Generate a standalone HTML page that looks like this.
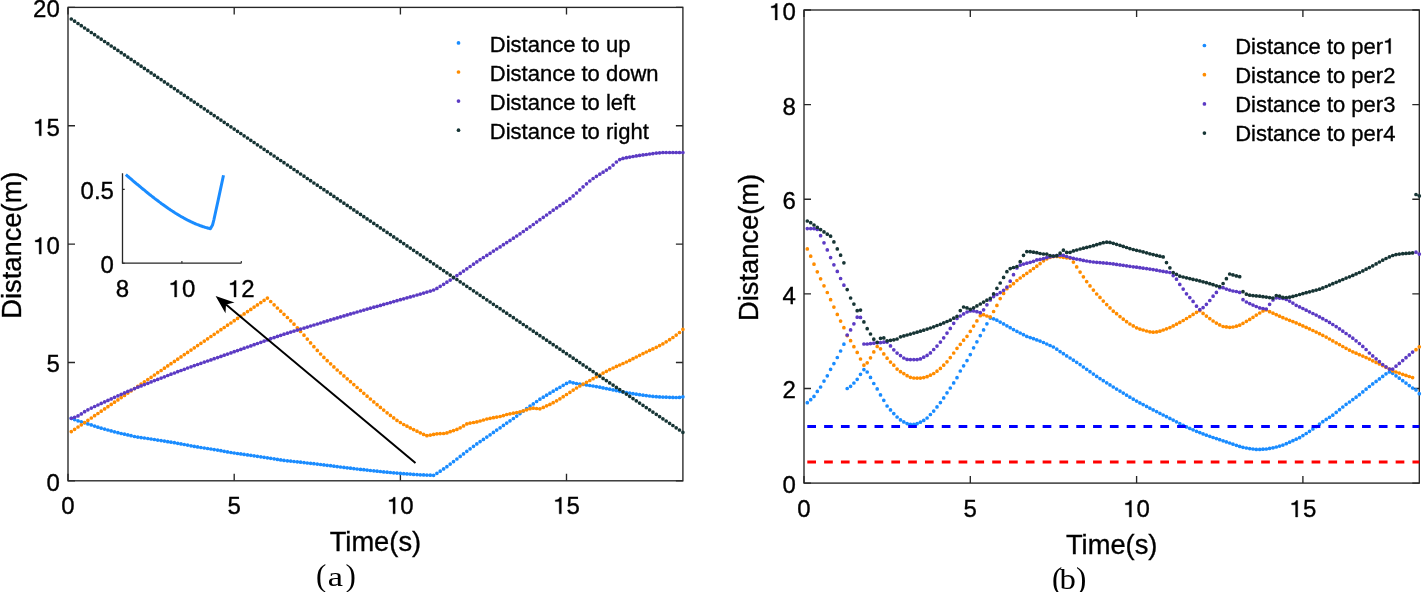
<!DOCTYPE html><html><head><meta charset="utf-8"><style>html,body{margin:0;padding:0;background:#fff;}svg{display:block;will-change:transform;} text{stroke:#000;stroke-width:0.35px;} .o{stroke:#000;stroke-width:0.35px;}</style></head><body>
<svg width="1422" height="592" viewBox="0 0 1422 592" font-family='"Liberation Sans", sans-serif'>
<rect width="1422" height="592" fill="#fff"/>
<rect x="68.0" y="7.4" width="614.9" height="473.4" fill="none" stroke="#262626" stroke-width="1.35"/>
<path d="M68.0 480.8V473.8M68.0 7.4V14.4M234.2 480.8V473.8M234.2 7.4V14.4M400.4 480.8V473.8M400.4 7.4V14.4M566.5 480.8V473.8M566.5 7.4V14.4M68.0 480.8H75.0M682.9 480.8H675.9M68.0 362.5H75.0M682.9 362.5H675.9M68.0 244.1H75.0M682.9 244.1H675.9M68.0 125.7H75.0M682.9 125.7H675.9M68.0 7.4H75.0M682.9 7.4H675.9" stroke="#262626" stroke-width="1.35" fill="none"/>
<path d="M71.3 418.3h0M74.6 419.6h0M78.0 420.8h0M81.3 421.8h0M84.6 422.8h0M87.9 423.9h0M91.3 424.9h0M94.6 426.1h0M97.9 427.2h0M101.2 428.2h0M104.6 429.1h0M107.9 430.0h0M111.2 430.9h0M114.5 431.8h0M117.9 432.7h0M121.2 433.5h0M124.5 434.2h0M127.8 434.9h0M131.1 435.7h0M134.5 436.5h0M137.8 437.1h0M141.1 437.6h0M144.4 438.0h0M147.8 438.5h0M151.1 439.0h0M154.4 439.5h0M157.7 440.1h0M161.1 440.6h0M164.4 441.1h0M167.7 441.7h0M171.0 442.2h0M174.4 442.7h0M177.7 443.3h0M181.0 443.9h0M184.3 444.5h0M187.6 445.1h0M191.0 445.8h0M194.3 446.4h0M197.6 446.9h0M200.9 447.5h0M204.3 448.0h0M207.6 448.5h0M210.9 449.0h0M214.2 449.6h0M217.6 450.1h0M220.9 450.7h0M224.2 451.3h0M227.5 451.9h0M230.9 452.5h0M234.2 453.0h0M237.5 453.5h0M240.8 453.9h0M244.1 454.4h0M247.5 454.9h0M250.8 455.3h0M254.1 455.8h0M257.4 456.3h0M260.8 456.8h0M264.1 457.3h0M267.4 457.8h0M270.7 458.3h0M274.1 458.8h0M277.4 459.4h0M280.7 459.9h0M284.0 460.4h0M287.4 460.8h0M290.7 461.1h0M294.0 461.5h0M297.3 461.8h0M300.6 462.2h0M304.0 462.6h0M307.3 463.0h0M310.6 463.3h0M313.9 463.7h0M317.3 464.1h0M320.6 464.5h0M323.9 464.9h0M327.2 465.3h0M330.6 465.7h0M333.9 466.2h0M337.2 466.6h0M340.5 467.0h0M343.9 467.4h0M347.2 467.8h0M350.5 468.2h0M353.8 468.6h0M357.1 469.0h0M360.5 469.4h0M363.8 469.7h0M367.1 470.1h0M370.4 470.5h0M373.8 470.8h0M377.1 471.2h0M380.4 471.5h0M383.7 471.9h0M387.1 472.2h0M390.4 472.5h0M393.7 472.8h0M397.0 473.1h0M400.4 473.4h0M403.7 473.7h0M407.0 473.9h0M410.3 474.1h0M413.6 474.4h0M417.0 474.6h0M420.3 474.8h0M423.6 474.9h0M426.9 475.1h0M430.3 475.2h0M433.6 475.3h0M436.9 473.3h0M440.2 471.2h0M443.6 468.9h0M446.9 466.7h0M450.2 464.1h0M453.5 461.6h0M456.9 459.0h0M460.2 456.4h0M463.5 453.9h0M466.8 451.3h0M470.1 448.8h0M473.5 446.3h0M476.8 443.9h0M480.1 441.6h0M483.4 439.4h0M486.8 437.1h0M490.1 434.8h0M493.4 432.4h0M496.7 430.1h0M500.1 427.8h0M503.4 425.4h0M506.7 423.1h0M510.0 420.8h0M513.4 418.5h0M516.7 416.1h0M520.0 413.6h0M523.3 411.1h0M526.6 408.6h0M530.0 406.2h0M533.3 403.9h0M536.6 401.5h0M539.9 399.2h0M543.3 397.2h0M546.6 395.2h0M549.9 393.2h0M553.2 391.2h0M556.6 389.2h0M559.9 387.3h0M563.2 385.3h0M566.5 383.4h0M569.9 381.9h0M573.2 382.8h0M576.5 383.5h0M579.8 384.0h0M583.1 384.5h0M586.5 385.0h0M589.8 385.5h0M593.1 386.0h0M596.4 386.6h0M599.8 387.2h0M603.1 387.9h0M606.4 388.6h0M609.7 389.2h0M613.1 389.9h0M616.4 390.6h0M619.7 391.3h0M623.0 391.9h0M626.4 392.6h0M629.7 393.1h0M633.0 393.7h0M636.3 394.2h0M639.6 394.7h0M643.0 395.2h0M646.3 395.6h0M649.6 396.0h0M652.9 396.4h0M656.3 396.7h0M659.6 396.9h0M662.9 397.1h0M666.2 397.2h0M669.6 397.3h0M672.9 397.4h0M676.2 397.5h0M679.5 397.4h0M682.9 396.8h0" stroke="#1a8cff" stroke-width="3.70" stroke-linecap="round" fill="none"/>
<path d="M71.3 431.6h0M74.6 429.3h0M78.0 427.0h0M81.3 424.8h0M84.6 422.5h0M87.9 420.3h0M91.3 418.0h0M94.6 415.7h0M97.9 413.5h0M101.2 411.2h0M104.6 408.9h0M107.9 406.7h0M111.2 404.4h0M114.5 402.2h0M117.9 399.9h0M121.2 397.6h0M124.5 395.4h0M127.8 393.1h0M131.1 390.8h0M134.5 388.6h0M137.8 386.3h0M141.1 384.0h0M144.4 381.8h0M147.8 379.5h0M151.1 377.3h0M154.4 375.0h0M157.7 372.7h0M161.1 370.5h0M164.4 368.2h0M167.7 365.9h0M171.0 363.7h0M174.4 361.4h0M177.7 359.2h0M181.0 356.9h0M184.3 354.6h0M187.6 352.4h0M191.0 350.1h0M194.3 347.8h0M197.6 345.6h0M200.9 343.3h0M204.3 341.1h0M207.6 338.8h0M210.9 336.5h0M214.2 334.3h0M217.6 332.0h0M220.9 329.7h0M224.2 327.5h0M227.5 325.2h0M230.9 323.0h0M234.2 320.7h0M237.5 318.4h0M240.8 316.2h0M244.1 313.9h0M247.5 311.6h0M250.8 309.4h0M254.1 307.1h0M257.4 304.9h0M260.8 302.6h0M264.1 300.3h0M267.4 298.1h0M270.7 301.5h0M274.1 304.8h0M277.4 308.0h0M280.7 311.2h0M284.0 314.3h0M287.4 317.5h0M290.7 320.8h0M294.0 324.2h0M297.3 327.8h0M300.6 331.5h0M304.0 335.2h0M307.3 339.1h0M310.6 342.9h0M313.9 346.7h0M317.3 350.4h0M320.6 354.0h0M323.9 357.4h0M327.2 360.7h0M330.6 363.8h0M333.9 366.9h0M337.2 370.0h0M340.5 372.9h0M343.9 375.9h0M347.2 378.8h0M350.5 381.7h0M353.8 384.6h0M357.1 387.5h0M360.5 390.4h0M363.8 393.3h0M367.1 396.2h0M370.4 399.0h0M373.8 401.9h0M377.1 404.7h0M380.4 407.4h0M383.7 410.1h0M387.1 412.8h0M390.4 415.4h0M393.7 417.9h0M397.0 420.4h0M400.4 422.5h0M403.7 424.5h0M407.0 426.2h0M410.3 427.9h0M413.6 429.6h0M417.0 431.2h0M420.3 432.8h0M423.6 434.4h0M426.9 435.7h0M430.3 435.1h0M433.6 434.4h0M436.9 433.8h0M440.2 433.6h0M443.6 433.5h0M446.9 432.9h0M450.2 431.7h0M453.5 430.6h0M456.9 429.4h0M460.2 427.8h0M463.5 425.9h0M466.8 423.9h0M470.1 423.1h0M473.5 422.5h0M476.8 421.9h0M480.1 421.0h0M483.4 420.0h0M486.8 419.0h0M490.1 418.3h0M493.4 417.7h0M496.7 417.1h0M500.1 416.5h0M503.4 415.6h0M506.7 414.5h0M510.0 413.8h0M513.4 413.2h0M516.7 412.5h0M520.0 411.8h0M523.3 410.8h0M526.6 409.8h0M530.0 408.7h0M533.3 408.2h0M536.6 408.5h0M539.9 408.8h0M543.3 407.4h0M546.6 405.8h0M549.9 404.4h0M553.2 402.7h0M556.6 400.8h0M559.9 398.8h0M563.2 396.7h0M566.5 394.5h0M569.9 392.3h0M573.2 390.1h0M576.5 388.0h0M579.8 386.0h0M583.1 384.1h0M586.5 382.3h0M589.8 380.5h0M593.1 378.7h0M596.4 376.8h0M599.8 375.0h0M603.1 373.1h0M606.4 371.3h0M609.7 369.6h0M613.1 368.0h0M616.4 366.4h0M619.7 365.0h0M623.0 363.5h0M626.4 362.0h0M629.7 360.4h0M633.0 358.7h0M636.3 357.0h0M639.6 355.3h0M643.0 353.6h0M646.3 352.0h0M649.6 350.4h0M652.9 348.9h0M656.3 347.3h0M659.6 345.6h0M662.9 343.8h0M666.2 341.8h0M669.6 339.7h0M672.9 337.5h0M676.2 335.1h0M679.5 332.5h0M682.9 329.3h0" stroke="#ff8c00" stroke-width="3.70" stroke-linecap="round" fill="none"/>
<path d="M71.3 418.3h0M74.6 417.3h0M78.0 415.9h0M81.3 413.9h0M84.6 411.7h0M87.9 409.8h0M91.3 408.1h0M94.6 406.5h0M97.9 405.0h0M101.2 403.4h0M104.6 401.9h0M107.9 400.4h0M111.2 398.9h0M114.5 397.3h0M117.9 395.8h0M121.2 394.3h0M124.5 392.9h0M127.8 391.4h0M131.1 390.0h0M134.5 388.6h0M137.8 387.2h0M141.1 385.9h0M144.4 384.6h0M147.8 383.3h0M151.1 381.9h0M154.4 380.6h0M157.7 379.4h0M161.1 378.1h0M164.4 376.8h0M167.7 375.5h0M171.0 374.2h0M174.4 373.0h0M177.7 371.7h0M181.0 370.5h0M184.3 369.3h0M187.6 368.0h0M191.0 366.8h0M194.3 365.6h0M197.6 364.5h0M200.9 363.3h0M204.3 362.1h0M207.6 361.0h0M210.9 359.9h0M214.2 358.7h0M217.6 357.6h0M220.9 356.4h0M224.2 355.2h0M227.5 354.1h0M230.9 352.9h0M234.2 351.7h0M237.5 350.6h0M240.8 349.4h0M244.1 348.2h0M247.5 347.0h0M250.8 345.9h0M254.1 344.7h0M257.4 343.5h0M260.8 342.3h0M264.1 341.1h0M267.4 339.9h0M270.7 338.7h0M274.1 337.6h0M277.4 336.4h0M280.7 335.3h0M284.0 334.2h0M287.4 333.2h0M290.7 332.1h0M294.0 331.1h0M297.3 330.1h0M300.6 329.1h0M304.0 328.1h0M307.3 327.1h0M310.6 326.0h0M313.9 325.0h0M317.3 324.0h0M320.6 323.0h0M323.9 321.9h0M327.2 320.9h0M330.6 319.9h0M333.9 318.9h0M337.2 317.9h0M340.5 316.9h0M343.9 315.9h0M347.2 314.9h0M350.5 313.9h0M353.8 313.0h0M357.1 312.0h0M360.5 311.0h0M363.8 310.1h0M367.1 309.1h0M370.4 308.2h0M373.8 307.2h0M377.1 306.3h0M380.4 305.4h0M383.7 304.4h0M387.1 303.5h0M390.4 302.6h0M393.7 301.6h0M397.0 300.7h0M400.4 299.7h0M403.7 298.8h0M407.0 297.8h0M410.3 296.9h0M413.6 296.0h0M417.0 295.0h0M420.3 294.1h0M423.6 293.1h0M426.9 292.1h0M430.3 291.1h0M433.6 290.0h0M436.9 288.4h0M440.2 286.3h0M443.6 284.3h0M446.9 282.2h0M450.2 280.1h0M453.5 277.9h0M456.9 275.6h0M460.2 273.4h0M463.5 271.1h0M466.8 268.8h0M470.1 266.5h0M473.5 264.2h0M476.8 261.9h0M480.1 259.7h0M483.4 257.5h0M486.8 255.4h0M490.1 253.3h0M493.4 251.1h0M496.7 249.0h0M500.1 246.9h0M503.4 244.7h0M506.7 242.6h0M510.0 240.4h0M513.4 238.2h0M516.7 236.0h0M520.0 233.8h0M523.3 231.5h0M526.6 229.2h0M530.0 226.8h0M533.3 224.5h0M536.6 222.1h0M539.9 219.7h0M543.3 217.3h0M546.6 215.0h0M549.9 212.6h0M553.2 210.2h0M556.6 207.9h0M559.9 205.7h0M563.2 203.4h0M566.5 201.1h0M569.9 198.7h0M573.2 195.9h0M576.5 193.0h0M579.8 189.9h0M583.1 186.8h0M586.5 183.8h0M589.8 181.0h0M593.1 178.5h0M596.4 176.3h0M599.8 174.2h0M603.1 172.2h0M606.4 170.1h0M609.7 167.9h0M613.1 165.1h0M616.4 162.0h0M619.7 159.6h0M623.0 158.4h0M626.4 157.7h0M629.7 157.1h0M633.0 156.5h0M636.3 155.9h0M639.6 155.4h0M643.0 154.9h0M646.3 154.5h0M649.6 154.0h0M652.9 153.6h0M656.3 153.1h0M659.6 152.8h0M662.9 152.5h0M666.2 152.5h0M669.6 152.5h0M672.9 152.5h0M676.2 152.5h0M679.5 152.5h0M682.9 152.5h0" stroke="#5c3bc4" stroke-width="3.70" stroke-linecap="round" fill="none"/>
<path d="M71.3 19.0h0M74.6 21.2h0M78.0 23.5h0M81.3 25.7h0M84.6 28.0h0M87.9 30.2h0M91.3 32.5h0M94.6 34.7h0M97.9 37.0h0M101.2 39.2h0M104.6 41.5h0M107.9 43.7h0M111.2 46.0h0M114.5 48.2h0M117.9 50.4h0M121.2 52.7h0M124.5 54.9h0M127.8 57.2h0M131.1 59.4h0M134.5 61.7h0M137.8 63.9h0M141.1 66.2h0M144.4 68.4h0M147.8 70.7h0M151.1 72.9h0M154.4 75.2h0M157.7 77.4h0M161.1 79.6h0M164.4 81.9h0M167.7 84.1h0M171.0 86.4h0M174.4 88.6h0M177.7 90.9h0M181.0 93.1h0M184.3 95.4h0M187.6 97.6h0M191.0 99.9h0M194.3 102.1h0M197.6 104.3h0M200.9 106.6h0M204.3 108.8h0M207.6 111.1h0M210.9 113.3h0M214.2 115.6h0M217.6 117.8h0M220.9 120.1h0M224.2 122.3h0M227.5 124.6h0M230.9 126.8h0M234.2 129.1h0M237.5 131.3h0M240.8 133.5h0M244.1 135.8h0M247.5 138.0h0M250.8 140.3h0M254.1 142.5h0M257.4 144.8h0M260.8 147.0h0M264.1 149.3h0M267.4 151.5h0M270.7 153.8h0M274.1 156.0h0M277.4 158.3h0M280.7 160.5h0M284.0 162.7h0M287.4 165.0h0M290.7 167.2h0M294.0 169.5h0M297.3 171.7h0M300.6 174.0h0M304.0 176.2h0M307.3 178.5h0M310.6 180.7h0M313.9 183.0h0M317.3 185.2h0M320.6 187.5h0M323.9 189.7h0M327.2 191.9h0M330.6 194.2h0M333.9 196.4h0M337.2 198.7h0M340.5 200.9h0M343.9 203.2h0M347.2 205.4h0M350.5 207.7h0M353.8 209.9h0M357.1 212.2h0M360.5 214.4h0M363.8 216.7h0M367.1 218.9h0M370.4 221.1h0M373.8 223.4h0M377.1 225.6h0M380.4 227.9h0M383.7 230.1h0M387.1 232.4h0M390.4 234.6h0M393.7 236.9h0M397.0 239.1h0M400.4 241.4h0M403.7 243.6h0M407.0 245.9h0M410.3 248.1h0M413.6 250.3h0M417.0 252.6h0M420.3 254.8h0M423.6 257.1h0M426.9 259.3h0M430.3 261.6h0M433.6 263.8h0M436.9 266.1h0M440.2 268.3h0M443.6 270.6h0M446.9 272.8h0M450.2 275.1h0M453.5 277.3h0M456.9 279.5h0M460.2 281.8h0M463.5 284.0h0M466.8 286.3h0M470.1 288.5h0M473.5 290.8h0M476.8 293.0h0M480.1 295.3h0M483.4 297.5h0M486.8 299.8h0M490.1 302.0h0M493.4 304.3h0M496.7 306.5h0M500.1 308.7h0M503.4 311.0h0M506.7 313.2h0M510.0 315.5h0M513.4 317.7h0M516.7 320.0h0M520.0 322.2h0M523.3 324.5h0M526.6 326.7h0M530.0 329.0h0M533.3 331.2h0M536.6 333.4h0M539.9 335.7h0M543.3 337.9h0M546.6 340.2h0M549.9 342.4h0M553.2 344.7h0M556.6 346.9h0M559.9 349.2h0M563.2 351.4h0M566.5 353.7h0M569.9 355.9h0M573.2 358.2h0M576.5 360.4h0M579.8 362.6h0M583.1 364.9h0M586.5 367.1h0M589.8 369.4h0M593.1 371.6h0M596.4 373.9h0M599.8 376.1h0M603.1 378.4h0M606.4 380.6h0M609.7 382.9h0M613.1 385.1h0M616.4 387.4h0M619.7 389.6h0M623.0 391.8h0M626.4 394.1h0M629.7 396.3h0M633.0 398.6h0M636.3 400.8h0M639.6 403.1h0M643.0 405.3h0M646.3 407.6h0M649.6 409.8h0M652.9 412.1h0M656.3 414.3h0M659.6 416.6h0M662.9 418.8h0M666.2 421.0h0M669.6 423.3h0M672.9 425.5h0M676.2 427.8h0M679.5 430.0h0M682.9 432.3h0" stroke="#173535" stroke-width="3.70" stroke-linecap="round" fill="none"/>
<g fill="#000"><text x="61.33" y="513.80" font-size="24.0">0</text>
<text x="227.50" y="513.80" font-size="24.0">5</text>
<path transform="translate(387.00 513.80) scale(0.01172 -0.01172)" d="M515 0L696 0L696 1409L560 1409C540 1290 430 1195 180 1182L180 1040L515 1040Z" fill="#000" stroke="#000" stroke-width="29.9"/><text x="400.35" y="513.80" font-size="24.0">0</text>
<path transform="translate(553.18 513.80) scale(0.01172 -0.01172)" d="M515 0L696 0L696 1409L560 1409C540 1290 430 1195 180 1182L180 1040L515 1040Z" fill="#000" stroke="#000" stroke-width="29.9"/><text x="566.53" y="513.80" font-size="24.0">5</text>
<text x="46.45" y="490.80" font-size="24.0">0</text>
<text x="46.45" y="372.45" font-size="24.0">5</text>
<path transform="translate(33.10 254.10) scale(0.01172 -0.01172)" d="M515 0L696 0L696 1409L560 1409C540 1290 430 1195 180 1182L180 1040L515 1040Z" fill="#000" stroke="#000" stroke-width="29.9"/><text x="46.45" y="254.10" font-size="24.0">0</text>
<path transform="translate(33.10 135.75) scale(0.01172 -0.01172)" d="M515 0L696 0L696 1409L560 1409C540 1290 430 1195 180 1182L180 1040L515 1040Z" fill="#000" stroke="#000" stroke-width="29.9"/><text x="46.45" y="135.75" font-size="24.0">5</text>
<text x="33.10" y="17.40" font-size="24.0">20</text></g>
<text x="375.4" y="551.4" font-size="27.3" text-anchor="middle">Time(s)</text>
<text transform="translate(21.3 245.1) rotate(-90)" font-size="27.3" text-anchor="middle">Distance(m)</text>
<circle cx="458.5" cy="42.9" r="1.85" fill="#1a8cff"/>
<text x="489.8" y="52.1" font-size="22">Distance to up</text>
<circle cx="458.5" cy="72.0" r="1.85" fill="#ff8c00"/>
<text x="489.8" y="81.2" font-size="22">Distance to down</text>
<circle cx="458.5" cy="101.1" r="1.85" fill="#5c3bc4"/>
<text x="489.8" y="110.3" font-size="22">Distance to left</text>
<circle cx="458.5" cy="130.2" r="1.85" fill="#173535"/>
<text x="489.8" y="139.4" font-size="22">Distance to right</text>
<polyline points="125.8,174.6 126.5,175.2 127.2,175.8 127.9,176.4 128.6,177.0 129.3,177.6 130.0,178.2 130.7,178.8 131.5,179.4 132.2,180.1 132.9,180.7 133.6,181.3 134.3,181.9 135.0,182.5 135.7,183.1 136.4,183.7 137.1,184.2 137.9,184.8 138.6,185.4 139.3,186.0 140.0,186.6 140.7,187.2 141.4,187.8 142.1,188.4 142.8,189.0 143.5,189.6 144.3,190.1 145.0,190.7 145.7,191.3 146.4,191.9 147.1,192.5 147.8,193.0 148.5,193.6 149.2,194.2 149.9,194.7 150.7,195.3 151.4,195.9 152.1,196.4 152.8,197.0 153.5,197.5 154.2,198.1 154.9,198.6 155.6,199.2 156.4,199.7 157.1,200.3 157.8,200.8 158.5,201.3 159.2,201.9 159.9,202.4 160.6,202.9 161.3,203.5 162.0,204.0 162.8,204.5 163.5,205.0 164.2,205.5 164.9,206.0 165.6,206.5 166.3,207.0 167.0,207.5 167.7,208.0 168.4,208.5 169.2,209.0 169.9,209.5 170.6,210.0 171.3,210.4 172.0,210.9 172.7,211.4 173.4,211.8 174.1,212.3 174.8,212.7 175.6,213.2 176.3,213.6 177.0,214.1 177.7,214.5 178.4,214.9 179.1,215.4 179.8,215.8 180.5,216.2 181.2,216.6 182.0,217.0 182.7,217.4 183.4,217.8 184.1,218.2 184.8,218.6 185.5,219.0 186.2,219.4 186.9,219.7 187.6,220.1 188.4,220.5 189.1,220.8 189.8,221.2 190.5,221.5 191.2,221.9 191.9,222.2 192.6,222.5 193.3,222.8 194.1,223.2 194.8,223.5 195.5,223.8 196.2,224.1 196.9,224.4 197.6,224.6 198.3,224.9 199.0,225.2 199.7,225.5 200.5,225.7 201.2,226.0 201.9,226.2 202.6,226.5 203.3,226.7 204.0,226.9 204.7,227.2 205.4,227.4 206.1,227.6 206.9,227.8 207.6,228.0 208.3,228.2 209.0,228.3 209.7,228.5 210.4,228.7 212.5,225.1 214.0,219.3 218.4,199.1 223.5,175.2" fill="none" stroke="#1a8cff" stroke-width="3" stroke-linejoin="round"/>
<path d="M122.5 173.2V263.2H241.3" fill="none" stroke="#262626" stroke-width="1.3"/>
<path d="M122.5 263.2V261.0M181.9 263.2V261.0M241.3 263.2V261.0M122.5 263.2H124.7M122.5 189.4H124.7" stroke="#262626" stroke-width="1.1" fill="none"/>
<g font-size="24">
<text x="115.83" y="297.00" font-size="24.0">8</text>
<path transform="translate(168.55 297.00) scale(0.01172 -0.01172)" d="M515 0L696 0L696 1409L560 1409C540 1290 430 1195 180 1182L180 1040L515 1040Z" fill="#000" stroke="#000" stroke-width="29.9"/><text x="181.90" y="297.00" font-size="24.0">0</text>
<path transform="translate(227.95 297.00) scale(0.01172 -0.01172)" d="M515 0L696 0L696 1409L560 1409C540 1290 430 1195 180 1182L180 1040L515 1040Z" fill="#000" stroke="#000" stroke-width="29.9"/><text x="241.30" y="297.00" font-size="24.0">2</text>
<text x="80.54" y="199.37" font-size="24.0">0.5</text>
<text x="100.55" y="273.20" font-size="24.0">0</text>
</g>
<line x1="415.5" y1="463.1" x2="226.0" y2="304.6" stroke="#000" stroke-width="2"/>
<path d="M215.6 295.9L234.5 302.6L226.0 304.6L225.5 313.3Z" fill="#000"/>
<rect x="804.0" y="10.0" width="615.3" height="473.1" fill="none" stroke="#262626" stroke-width="1.35"/>
<path d="M804.0 483.1V476.1M804.0 10.0V17.0M970.3 483.1V476.1M970.3 10.0V17.0M1136.6 483.1V476.1M1136.6 10.0V17.0M1302.9 483.1V476.1M1302.9 10.0V17.0M804.0 483.1H811.0M1419.3 483.1H1412.3M804.0 388.5H811.0M1419.3 388.5H1412.3M804.0 293.9H811.0M1419.3 293.9H1412.3M804.0 199.2H811.0M1419.3 199.2H1412.3M804.0 104.6H811.0M1419.3 104.6H1412.3M804.0 10.0H811.0M1419.3 10.0H1412.3" stroke="#262626" stroke-width="1.35" fill="none"/>
<path d="M807.3 402.7h0M810.7 399.7h0M814.0 396.4h0M817.3 391.4h0M820.6 387.0h0M824.0 381.1h0M827.3 375.8h0M830.6 369.3h0M833.9 363.6h0M837.3 357.5h0M840.6 351.0h0M843.9 344.2h0" stroke="#1a8cff" stroke-width="3.70" stroke-linecap="round" fill="none"/>
<path d="M847.2 388.5h0M850.6 386.3h0M853.9 383.0h0M857.2 379.3h0M860.5 374.3h0M863.9 369.6h0M867.2 372.0h0M870.5 377.4h0M873.8 383.5h0M877.2 388.9h0M880.5 394.9h0M883.8 400.3h0M887.1 406.0h0M890.5 409.9h0M893.8 413.6h0M897.1 417.0h0M900.5 419.9h0M903.8 421.9h0M907.1 423.6h0M910.4 424.3h0M913.8 424.4h0M917.1 423.7h0M920.4 422.2h0M923.7 420.4h0M927.1 418.0h0M930.4 414.5h0M933.7 411.1h0M937.0 406.9h0M940.4 402.6h0M943.7 397.9h0M947.0 392.8h0M950.3 388.0h0M953.7 382.9h0M957.0 377.7h0M960.3 371.0h0M963.6 365.8h0M967.0 360.6h0M970.3 354.6h0M973.6 347.8h0M976.9 341.8h0M980.3 335.6h0M983.6 329.9h0M986.9 323.8h0M990.3 318.1h0M993.6 318.8h0M996.9 320.2h0M1000.2 322.1h0M1003.6 323.9h0M1006.9 325.8h0M1010.2 327.7h0M1013.5 329.6h0M1016.9 331.3h0M1020.2 333.0h0M1023.5 334.7h0M1026.8 336.4h0M1030.2 337.6h0M1033.5 338.7h0M1036.8 339.9h0M1040.1 341.1h0M1043.5 342.5h0M1046.8 344.0h0M1050.1 345.5h0M1053.4 347.0h0M1056.8 349.2h0M1060.1 351.6h0M1063.4 353.7h0M1066.7 355.9h0M1070.1 358.0h0M1073.4 360.2h0M1076.7 362.3h0M1080.1 364.6h0M1083.4 367.0h0M1086.7 369.3h0M1090.0 371.7h0M1093.4 374.1h0M1096.7 376.4h0M1100.0 378.6h0M1103.3 380.7h0M1106.7 382.8h0M1110.0 384.9h0M1113.3 387.0h0M1116.6 389.1h0M1120.0 391.1h0M1123.3 393.1h0M1126.6 395.2h0M1129.9 397.2h0M1133.3 399.2h0M1136.6 401.1h0M1139.9 402.9h0M1143.2 404.6h0M1146.6 406.4h0M1149.9 408.2h0M1153.2 409.9h0M1156.6 411.6h0M1159.9 413.3h0M1163.2 415.0h0M1166.5 416.7h0M1169.9 418.4h0M1173.2 420.1h0M1176.5 421.8h0M1179.8 423.5h0M1183.2 425.3h0M1186.5 426.9h0M1189.8 428.4h0M1193.1 429.8h0M1196.5 431.3h0M1199.8 432.6h0M1203.1 433.9h0M1206.4 435.2h0M1209.8 436.3h0M1213.1 437.5h0M1216.4 438.6h0M1219.7 439.7h0M1223.1 440.8h0M1226.4 441.9h0M1229.7 443.0h0M1233.0 444.2h0M1236.4 445.3h0M1239.7 446.4h0M1243.0 447.3h0M1246.4 448.0h0M1249.7 448.6h0M1253.0 449.0h0M1256.3 449.4h0M1259.7 449.4h0M1263.0 449.2h0M1266.3 449.0h0M1269.6 448.4h0M1273.0 447.8h0M1276.3 447.0h0M1279.6 446.1h0M1282.9 445.1h0M1286.3 443.7h0M1289.6 442.2h0M1292.9 440.7h0M1296.2 439.2h0M1299.6 437.7h0M1302.9 435.6h0M1306.2 433.5h0M1309.5 431.3h0M1312.9 428.9h0M1316.2 426.6h0M1319.5 424.1h0M1322.8 421.7h0M1326.2 419.4h0M1329.5 417.3h0M1332.8 415.2h0M1336.2 412.4h0M1339.5 409.7h0M1342.8 407.0h0M1346.1 404.3h0M1349.5 402.0h0M1352.8 399.6h0M1356.1 397.2h0M1359.4 394.7h0M1362.8 391.9h0M1366.1 389.2h0M1369.4 386.5h0M1372.7 383.9h0M1376.1 381.4h0M1379.4 378.9h0M1382.7 376.4h0M1386.0 373.8h0M1389.4 371.9h0M1392.7 373.3h0M1396.0 375.8h0M1399.3 378.2h0M1402.7 380.7h0M1406.0 383.1h0M1409.3 385.6h0M1412.6 388.0h0M1416.0 389.9h0M1419.3 393.7h0" stroke="#1a8cff" stroke-width="3.70" stroke-linecap="round" fill="none"/>
<path d="M807.3 248.9h0M810.7 256.2h0M814.0 264.2h0M817.3 271.8h0M820.6 278.8h0M824.0 285.8h0M827.3 292.5h0M830.6 299.7h0M833.9 307.1h0M837.3 314.4h0M840.6 321.1h0M843.9 327.7h0M847.2 335.6h0M850.6 340.7h0M853.9 346.7h0M857.2 352.4h0M860.5 359.0h0M863.9 365.2h0M867.2 362.8h0M870.5 357.8h0M873.8 351.9h0M877.2 346.5h0M880.5 348.8h0M883.8 353.9h0M887.1 358.2h0M890.5 362.1h0M893.8 365.2h0M897.1 369.1h0M900.5 371.7h0M903.8 373.6h0M907.1 375.7h0M910.4 377.3h0M913.8 378.0h0M917.1 378.1h0M920.4 378.1h0M923.7 377.6h0M927.1 376.7h0M930.4 375.2h0M933.7 373.5h0M937.0 371.2h0M940.4 368.4h0M943.7 365.2h0M947.0 361.8h0M950.3 357.6h0M953.7 353.0h0M957.0 348.3h0M960.3 344.3h0M963.6 340.2h0M967.0 336.3h0M970.3 331.3h0M973.6 326.1h0M976.9 320.9h0M980.3 315.7h0M983.6 314.7h0M986.9 316.0h0M990.3 316.9h0M993.6 311.5h0M996.9 305.4h0M1000.2 298.6h0M1003.6 293.4h0M1006.9 288.7h0M1010.2 286.1h0M1013.5 283.7h0M1016.9 280.5h0M1020.2 278.0h0M1023.5 275.6h0M1026.8 273.3h0M1030.2 270.9h0M1033.5 268.5h0M1036.8 266.2h0M1040.1 263.6h0M1043.5 260.8h0M1046.8 258.8h0M1050.1 257.3h0M1053.4 256.6h0M1056.8 256.5h0M1060.1 256.8h0M1063.4 257.3h0M1066.7 257.8h0M1070.1 258.2h0M1073.4 262.1h0M1076.7 266.9h0M1080.1 272.1h0M1083.4 276.8h0M1086.7 281.6h0M1090.0 285.9h0M1093.4 290.1h0M1096.7 294.0h0M1100.0 297.4h0M1103.3 301.1h0M1106.7 304.6h0M1110.0 307.9h0M1113.3 311.2h0M1116.6 313.7h0M1120.0 316.6h0M1123.3 319.2h0M1126.6 321.7h0M1129.9 324.0h0M1133.3 325.9h0M1136.6 327.8h0M1139.9 329.1h0M1143.2 330.0h0M1146.6 331.0h0M1149.9 331.8h0M1153.2 332.2h0M1156.6 331.9h0M1159.9 331.2h0M1163.2 330.0h0M1166.5 328.8h0M1169.9 327.6h0M1173.2 325.9h0M1176.5 324.2h0M1179.8 322.4h0M1183.2 320.5h0M1186.5 318.5h0M1189.8 316.5h0M1193.1 314.4h0M1196.5 312.3h0M1199.8 310.7h0M1203.1 313.4h0M1206.4 316.1h0M1209.8 318.6h0M1213.1 321.0h0M1216.4 323.1h0M1219.7 324.9h0M1223.1 326.5h0M1226.4 326.9h0M1229.7 327.3h0M1233.0 327.0h0M1236.4 326.2h0M1239.7 325.2h0M1243.0 323.3h0M1246.4 321.3h0M1249.7 319.4h0M1253.0 317.3h0M1256.3 315.1h0M1259.7 313.0h0M1263.0 310.9h0M1266.3 310.0h0M1269.6 311.7h0M1273.0 313.2h0M1276.3 314.7h0M1279.6 316.2h0M1282.9 317.7h0M1286.3 319.0h0M1289.6 320.3h0M1292.9 321.6h0M1296.2 322.9h0M1299.6 324.4h0M1302.9 325.9h0M1306.2 327.4h0M1309.5 328.9h0M1312.9 330.5h0M1316.2 332.1h0M1319.5 333.7h0M1322.8 335.3h0M1326.2 337.1h0M1329.5 339.0h0M1332.8 340.9h0M1336.2 342.8h0M1339.5 344.6h0M1342.8 346.5h0M1346.1 348.3h0M1349.5 350.2h0M1352.8 351.8h0M1356.1 353.2h0M1359.4 354.7h0M1362.8 356.1h0M1366.1 357.6h0M1369.4 359.1h0M1372.7 360.8h0M1376.1 362.4h0M1379.4 364.0h0M1382.7 365.6h0M1386.0 367.3h0M1389.4 369.1h0M1392.7 370.8h0M1396.0 372.0h0M1399.3 373.1h0M1402.7 374.3h0M1406.0 375.4h0M1409.3 376.5h0M1412.6 377.6h0" stroke="#ff8c00" stroke-width="3.70" stroke-linecap="round" fill="none"/>
<path d="M1416.0 349.7h0M1419.3 346.8h0" stroke="#ff8c00" stroke-width="3.70" stroke-linecap="round" fill="none"/>
<path d="M807.3 228.6h0M810.7 228.6h0M814.0 228.6h0M817.3 229.4h0M820.6 235.7h0M824.0 242.8h0M827.3 249.9h0M830.6 257.6h0M833.9 264.8h0M837.3 271.4h0M840.6 278.5h0M843.9 285.2h0" stroke="#5c3bc4" stroke-width="3.70" stroke-linecap="round" fill="none"/>
<path d="M847.2 335.0h0M850.6 329.9h0M853.9 323.8h0M857.2 317.2h0M860.5 317.4h0" stroke="#5c3bc4" stroke-width="3.70" stroke-linecap="round" fill="none"/>
<path d="M863.9 344.0h0M867.2 344.0h0M870.5 343.6h0M873.8 343.2h0M877.2 342.7h0M880.5 342.6h0M883.8 342.2h0M887.1 342.1h0M890.5 345.9h0M893.8 349.8h0M897.1 353.1h0M900.5 355.6h0M903.8 358.0h0M907.1 359.4h0M910.4 359.6h0M913.8 359.6h0M917.1 359.6h0M920.4 358.9h0M923.7 357.2h0M927.1 355.4h0M930.4 352.9h0M933.7 349.5h0M937.0 346.1h0M940.4 342.1h0M943.7 337.8h0M947.0 333.1h0M950.3 328.4h0M953.7 323.3h0M957.0 318.5h0M960.3 316.0h0M963.6 313.9h0M967.0 312.0h0M970.3 311.0h0M973.6 310.9h0M976.9 311.7h0M980.3 312.7h0M983.6 309.8h0M986.9 304.8h0M990.3 300.0h0M993.6 296.6h0M996.9 294.5h0M1000.2 292.6h0M1003.6 290.3h0M1006.9 287.1h0M1010.2 281.2h0M1013.5 274.7h0M1016.9 268.0h0M1020.2 265.2h0M1023.5 264.1h0M1026.8 263.2h0M1030.2 262.3h0M1033.5 261.3h0M1036.8 259.9h0M1040.1 259.4h0M1043.5 258.6h0M1046.8 257.6h0M1050.1 256.7h0M1053.4 256.2h0M1056.8 255.7h0M1060.1 255.2h0M1063.4 255.4h0M1066.7 256.5h0M1070.1 257.6h0M1073.4 258.4h0M1076.7 259.1h0M1080.1 259.7h0M1083.4 260.4h0M1086.7 261.0h0M1090.0 261.6h0M1093.4 262.0h0M1096.7 262.3h0M1100.0 262.6h0M1103.3 262.9h0M1106.7 263.2h0M1110.0 263.5h0M1113.3 263.9h0M1116.6 264.4h0M1120.0 264.9h0M1123.3 265.3h0M1126.6 265.8h0M1129.9 266.3h0M1133.3 266.8h0M1136.6 267.2h0M1139.9 267.7h0M1143.2 268.2h0M1146.6 268.6h0M1149.9 269.1h0M1153.2 269.6h0M1156.6 270.2h0M1159.9 270.8h0M1163.2 271.4h0M1166.5 271.9h0M1169.9 272.5h0M1173.2 275.6h0M1176.5 279.2h0M1179.8 284.4h0M1183.2 289.1h0M1186.5 293.8h0M1189.8 297.6h0M1193.1 301.4h0M1196.5 306.2h0M1199.8 309.7h0M1203.1 307.6h0M1206.4 304.3h0M1209.8 300.5h0M1213.1 296.2h0M1216.4 292.4h0M1219.7 287.7h0M1223.1 287.7h0M1226.4 289.1h0M1229.7 290.1h0M1233.0 291.0h0M1236.4 291.5h0M1239.7 292.4h0M1243.0 299.7h0M1246.4 302.0h0M1249.7 303.6h0M1253.0 305.1h0M1256.3 306.5h0M1259.7 307.9h0M1263.0 308.5h0M1266.3 309.0h0M1269.6 304.3h0M1273.0 300.0h0M1276.3 297.8h0M1279.6 298.1h0M1282.9 298.5h0M1286.3 299.4h0M1289.6 301.1h0M1292.9 303.1h0M1296.2 305.3h0M1299.6 306.9h0M1302.9 308.5h0M1306.2 310.2h0M1309.5 311.8h0M1312.9 313.5h0M1316.2 315.1h0M1319.5 316.9h0M1322.8 318.7h0M1326.2 320.5h0M1329.5 322.4h0M1332.8 324.5h0M1336.2 326.6h0M1339.5 328.9h0M1342.8 331.2h0M1346.1 333.5h0M1349.5 335.8h0M1352.8 338.2h0M1356.1 340.8h0M1359.4 343.5h0M1362.8 346.4h0M1366.1 349.5h0M1369.4 353.0h0M1372.7 355.9h0M1376.1 358.8h0M1379.4 361.7h0M1382.7 364.5h0M1386.0 366.8h0M1389.4 369.1h0M1392.7 369.1h0M1396.0 366.2h0M1399.3 363.4h0M1402.7 360.6h0M1406.0 357.7h0M1409.3 354.9h0M1412.6 352.1h0" stroke="#5c3bc4" stroke-width="3.70" stroke-linecap="round" fill="none"/>
<path d="M1416.0 252.2h0M1419.3 254.1h0" stroke="#5c3bc4" stroke-width="3.70" stroke-linecap="round" fill="none"/>
<path d="M807.3 221.0h0M810.7 222.7h0M814.0 225.0h0M817.3 227.4h0M820.6 229.6h0M824.0 231.9h0M827.3 234.2h0M830.6 236.2h0M833.9 241.9h0M837.3 248.9h0M840.6 255.2h0M843.9 262.8h0M847.2 289.6h0M850.6 298.0h0M853.9 304.1h0M857.2 310.7h0M860.5 310.1h0M863.9 321.9h0M867.2 328.7h0M870.5 334.0h0M873.8 339.2h0M877.2 342.3h0M880.5 338.3h0M883.8 337.9h0M887.1 340.8h0M890.5 340.3h0M893.8 339.8h0M897.1 339.0h0M900.5 336.8h0M903.8 335.9h0M907.1 335.0h0M910.4 334.1h0M913.8 333.1h0M917.1 332.2h0M920.4 331.2h0M923.7 330.2h0M927.1 329.1h0M930.4 328.0h0M933.7 326.8h0M937.0 325.5h0M940.4 324.3h0M943.7 322.9h0M947.0 321.5h0M950.3 320.2h0M953.7 318.2h0M957.0 316.3h0M960.3 310.6h0M963.6 307.0h0M967.0 307.9h0M970.3 309.3h0M973.6 307.8h0M976.9 305.9h0M980.3 304.0h0M983.6 302.1h0M986.9 300.2h0M990.3 298.3h0M993.6 293.9h0M996.9 288.3h0M1000.2 283.0h0M1003.6 277.4h0M1006.9 271.7h0M1010.2 268.6h0M1013.5 267.5h0M1016.9 266.5h0M1020.2 261.7h0M1023.5 255.3h0M1026.8 251.6h0M1030.2 251.7h0M1033.5 252.2h0M1036.8 252.7h0M1040.1 253.5h0M1043.5 254.0h0M1046.8 254.1h0M1050.1 255.5h0M1053.4 256.0h0M1056.8 255.7h0M1060.1 253.2h0M1063.4 250.2h0M1066.7 252.4h0M1070.1 252.3h0M1073.4 250.9h0M1076.7 250.0h0M1080.1 249.0h0M1083.4 248.2h0M1086.7 247.4h0M1090.0 246.6h0M1093.4 245.7h0M1096.7 244.7h0M1100.0 243.7h0M1103.3 242.7h0M1106.7 242.2h0M1110.0 242.4h0M1113.3 243.3h0M1116.6 244.3h0M1120.0 245.3h0M1123.3 246.4h0M1126.6 247.5h0M1129.9 248.6h0M1133.3 249.5h0M1136.6 250.3h0M1139.9 251.0h0M1143.2 251.9h0M1146.6 252.8h0M1149.9 253.8h0M1153.2 254.6h0M1156.6 255.4h0M1159.9 256.2h0M1163.2 256.9h0M1166.5 262.6h0M1169.9 267.8h0M1173.2 272.6h0M1176.5 274.3h0M1179.8 276.2h0M1183.2 277.0h0M1186.5 277.8h0M1189.8 278.6h0M1193.1 279.4h0M1196.5 280.1h0M1199.8 280.9h0M1203.1 281.8h0M1206.4 282.7h0M1209.8 283.7h0M1213.1 284.7h0M1216.4 285.8h0M1219.7 286.5h0M1223.1 283.5h0M1226.4 278.7h0M1229.7 274.0h0M1233.0 274.9h0M1236.4 275.9h0M1239.7 276.7h0M1243.0 291.7h0M1246.4 294.2h0M1249.7 295.2h0M1253.0 295.6h0M1256.3 295.9h0M1259.7 296.2h0M1263.0 296.7h0M1266.3 297.1h0M1269.6 297.6h0M1273.0 298.1h0M1276.3 295.6h0M1279.6 296.1h0M1282.9 297.4h0M1286.3 297.5h0M1289.6 297.2h0M1292.9 296.4h0M1296.2 295.5h0M1299.6 294.5h0M1302.9 293.6h0M1306.2 292.7h0M1309.5 291.8h0M1312.9 290.9h0M1316.2 290.1h0M1319.5 289.2h0M1322.8 287.9h0M1326.2 286.5h0M1329.5 285.1h0M1332.8 283.7h0M1336.2 282.3h0M1339.5 280.9h0M1342.8 279.5h0M1346.1 278.1h0M1349.5 276.8h0M1352.8 275.4h0M1356.1 273.9h0M1359.4 272.5h0M1362.8 270.9h0M1366.1 269.2h0M1369.4 267.6h0M1372.7 265.8h0M1376.1 263.9h0M1379.4 262.0h0M1382.7 260.2h0M1386.0 258.5h0M1389.4 256.9h0M1392.7 255.5h0M1396.0 254.6h0M1399.3 254.1h0M1402.7 253.7h0M1406.0 253.4h0M1409.3 253.2h0M1412.6 252.9h0" stroke="#173535" stroke-width="3.70" stroke-linecap="round" fill="none"/>
<path d="M1416.0 194.5h0M1419.3 195.9h0" stroke="#173535" stroke-width="3.70" stroke-linecap="round" fill="none"/>
<line x1="807.3" y1="426.5" x2="1419.3" y2="426.5" stroke="#0000ff" stroke-width="3" stroke-dasharray="8.7 8.11"/>
<line x1="807.3" y1="462.1" x2="1419.3" y2="462.1" stroke="#ff0000" stroke-width="3" stroke-dasharray="8.7 8.11"/>
<g fill="#000"><text x="797.33" y="517.00" font-size="24.0">0</text>
<text x="963.62" y="517.00" font-size="24.0">5</text>
<path transform="translate(1123.25 517.00) scale(0.01172 -0.01172)" d="M515 0L696 0L696 1409L560 1409C540 1290 430 1195 180 1182L180 1040L515 1040Z" fill="#000" stroke="#000" stroke-width="29.9"/><text x="1136.59" y="517.00" font-size="24.0">0</text>
<path transform="translate(1289.54 517.00) scale(0.01172 -0.01172)" d="M515 0L696 0L696 1409L560 1409C540 1290 430 1195 180 1182L180 1040L515 1040Z" fill="#000" stroke="#000" stroke-width="29.9"/><text x="1302.89" y="517.00" font-size="24.0">5</text>
<text x="782.45" y="493.10" font-size="24.0">0</text>
<text x="782.45" y="398.48" font-size="24.0">2</text>
<text x="782.45" y="303.86" font-size="24.0">4</text>
<text x="782.45" y="209.24" font-size="24.0">6</text>
<text x="782.45" y="114.62" font-size="24.0">8</text>
<path transform="translate(769.10 20.00) scale(0.01172 -0.01172)" d="M515 0L696 0L696 1409L560 1409C540 1290 430 1195 180 1182L180 1040L515 1040Z" fill="#000" stroke="#000" stroke-width="29.9"/><text x="782.45" y="20.00" font-size="24.0">0</text></g>
<text x="1111.7" y="553.7" font-size="27.3" text-anchor="middle">Time(s)</text>
<text transform="translate(757.9 247.4) rotate(-90)" font-size="27.3" text-anchor="middle">Distance(m)</text>
<circle cx="1204.4" cy="45.5" r="1.85" fill="#1a8cff"/>
<text x="1235.20" y="53.60" font-size="22.0">Distance to per</text><path transform="translate(1383.16 53.60) scale(0.01074 -0.01074)" d="M515 0L696 0L696 1409L560 1409C540 1290 430 1195 180 1182L180 1040L515 1040Z" fill="#000" stroke="#000" stroke-width="32.6"/>
<circle cx="1204.4" cy="74.7" r="1.85" fill="#ff8c00"/>
<text x="1235.20" y="82.80" font-size="22.0">Distance to per2</text>
<circle cx="1204.4" cy="103.9" r="1.85" fill="#5c3bc4"/>
<text x="1235.20" y="112.00" font-size="22.0">Distance to per3</text>
<circle cx="1204.4" cy="133.1" r="1.85" fill="#173535"/>
<text x="1235.20" y="141.20" font-size="22.0">Distance to per4</text>
<text transform="translate(316.0 585.6) scale(1.000 1)" font-size="31.0" style="stroke:none" font-family='"Liberation Serif", serif'>(</text>
<text transform="translate(327.8 585.6) scale(1.250 1)" font-size="27.5" style="stroke:none" font-family='"Liberation Serif", serif'>a</text>
<text transform="translate(345.4 585.6) scale(1.000 1)" font-size="31.0" style="stroke:none" font-family='"Liberation Serif", serif'>)</text>
<text transform="translate(1051.9 589.0) scale(1.000 1)" font-size="31.0" style="stroke:none" font-family='"Liberation Serif", serif'>(</text>
<text transform="translate(1059.4 589.0) scale(1.130 1)" font-size="29.0" style="stroke:none" font-family='"Liberation Serif", serif'>b</text>
<text transform="translate(1076.1 589.0) scale(1.000 1)" font-size="31.0" style="stroke:none" font-family='"Liberation Serif", serif'>)</text>
</svg></body></html>
